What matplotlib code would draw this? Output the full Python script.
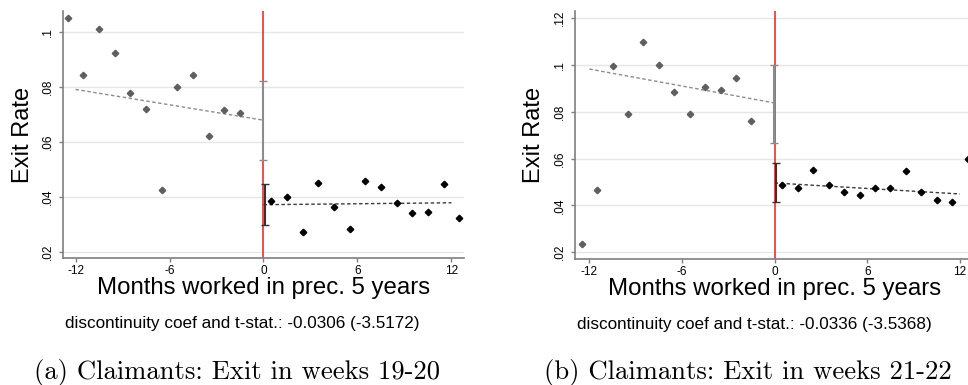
import matplotlib
matplotlib.use("Agg")
import matplotlib.pyplot as plt

plt.rcParams["font.family"] = ["Liberation Sans", "DejaVu Sans"]

# Month bins (bin centres) on each side of the cutoff
x_left = [-12.5, -11.5, -10.5, -9.5, -8.5, -7.5, -6.5, -5.5, -4.5, -3.5, -2.5, -1.5]
x_right = [0.5, 1.5, 2.5, 3.5, 4.5, 5.5, 6.5, 7.5, 8.5, 9.5, 10.5, 11.5, 12.5]

# Panel (a): exit in weeks 19-20
a_left = [0.1052, 0.0846, 0.1011, 0.0924, 0.0779, 0.0721, 0.0424, 0.0802,
          0.0845, 0.0621, 0.0716, 0.0707]
a_right = [0.0387, 0.0401, 0.0274, 0.0452, 0.0362, 0.0282, 0.0459, 0.0436,
           0.0377, 0.0343, 0.0347, 0.0448, 0.0325]
a_fit_left = [0.0792, 0.0680]    # fitted value at -12 and at 0
a_fit_right = [0.0372, 0.0379]   # fitted value at 0 and at 12
a_ci_left = [0.0535, 0.0823]
a_ci_right = [0.0299, 0.0446]
a_note = "discontinuity coef and t-stat.: -0.0306 (-3.5172)"
a_caption = "(a) Claimants: Exit in weeks 19-20"

# Panel (b): exit in weeks 21-22
b_left = [0.0236, 0.0464, 0.0997, 0.0793, 0.1098, 0.0999, 0.0885, 0.0789,
          0.0905, 0.0895, 0.0943, 0.0762]
b_right = [0.0486, 0.0473, 0.0550, 0.0486, 0.0456, 0.0446, 0.0473, 0.0476,
           0.0548, 0.0457, 0.0423, 0.0416, 0.0599]
b_fit_left = [0.0983, 0.0838]
b_fit_right = [0.0496, 0.0449]
b_ci_left = [0.0667, 0.1000]
b_ci_right = [0.0415, 0.0581]
b_note = "discontinuity coef and t-stat.: -0.0336 (-3.5368)"
b_caption = "(b) Claimants: Exit in weeks 21-22"

xticks = [-12, -6, 0, 6, 12]
xticklabels = ["-12", "-6", "0", "6", "12"]
yticks_a = [0.02, 0.04, 0.06, 0.08, 0.10]
yticklabels_a = [".02", ".04", ".06", ".08", ".1"]
yticks_b = [0.02, 0.04, 0.06, 0.08, 0.10, 0.12]
yticklabels_b = [".02", ".04", ".06", ".08", ".1", ".12"]

fig = plt.figure(figsize=(9.68, 3.85), dpi=100)
ax_a = fig.add_axes([0.0651, 0.330, 0.4142, 0.6416])
ax_b = fig.add_axes([0.5937, 0.3273, 0.4131, 0.644])


def draw_panel(ax, left, right, fit_l, fit_r, ci_l, ci_r, yt, ytl, ylim, xlim, note):
    ax.set_xlim(*xlim)
    ax.set_ylim(*ylim)
    for s in ["top", "right"]:
        ax.spines[s].set_visible(False)
    for s in ["left", "bottom"]:
        ax.spines[s].set_color("#7f7f7f")
        ax.spines[s].set_linewidth(1.2)
    ax.set_yticks(yt)
    ax.set_yticklabels(ytl, rotation=90, va="center", fontsize=8.5)
    ax.set_xticks(xticks)
    ax.set_xticklabels(xticklabels, fontsize=8.5)
    ax.tick_params(axis="both", color="#7f7f7f", length=2.6, width=1.0)
    ax.tick_params(axis="y", pad=4)
    ax.tick_params(axis="x", pad=2.5)
    ax.grid(axis="y", color="#e6e6e6", linewidth=1.0)
    ax.set_axisbelow(True)

    ax.axvline(0, color="#e8322e", linewidth=1.2, zorder=2)

    ax.plot([-12, 0], fit_l, linestyle=(0, (2.5, 1.8)), color="#8c8c8c", linewidth=1.0, zorder=3)
    ax.plot([0, 12], fit_r, linestyle=(0, (2.5, 1.8)), color="#3a3a3a", linewidth=1.0, zorder=3)

    ax.errorbar([-0.05], [sum(ci_l) / 2], yerr=[[(ci_l[1] - ci_l[0]) / 2]],
                fmt="none", ecolor="#8c8c8c", elinewidth=1.5, capsize=3, capthick=1.0, zorder=4)
    ax.errorbar([0.12], [sum(ci_r) / 2], yerr=[[(ci_r[1] - ci_r[0]) / 2]],
                fmt="none", ecolor="#333333", elinewidth=1.5, capsize=3, capthick=1.0, zorder=4)

    ax.plot(x_left, left, linestyle="none", marker="D", markersize=3.3,
            color="#5f5f5f", clip_on=False, zorder=5)
    ax.plot(x_right, right, linestyle="none", marker="D", markersize=3.3,
            color="black", clip_on=False, zorder=5)

    ax.set_ylabel("Exit Rate", fontsize=17, labelpad=6)
    ax.set_xlabel("Months worked in prec. 5 years", fontsize=17.3, labelpad=0)
    ax.text(0.005, -0.265, note, transform=ax.transAxes, ha="left", va="center",
            fontsize=12.3)


draw_panel(ax_a, a_left, a_right, a_fit_left, a_fit_right, a_ci_left, a_ci_right,
           yticks_a, yticklabels_a, (0.0178, 0.1078), (-12.8, 12.8), a_note)
draw_panel(ax_b, b_left, b_right, b_fit_left, b_fit_right, b_ci_left, b_ci_right,
           yticks_b, yticklabels_b, (0.0171, 0.1231), (-12.95, 12.95), b_note)

cap_font = ["cmr10", "DejaVu Serif"]
fig.text(237.5 / 968, 1 - 372.5 / 385, a_caption, ha="center", va="center",
         fontsize=19.2, family=cap_font)
fig.text(748 / 968, 1 - 372.5 / 385, b_caption, ha="center", va="center",
         fontsize=19.2, family=cap_font)

fig.savefig("out.png", dpi=100)
